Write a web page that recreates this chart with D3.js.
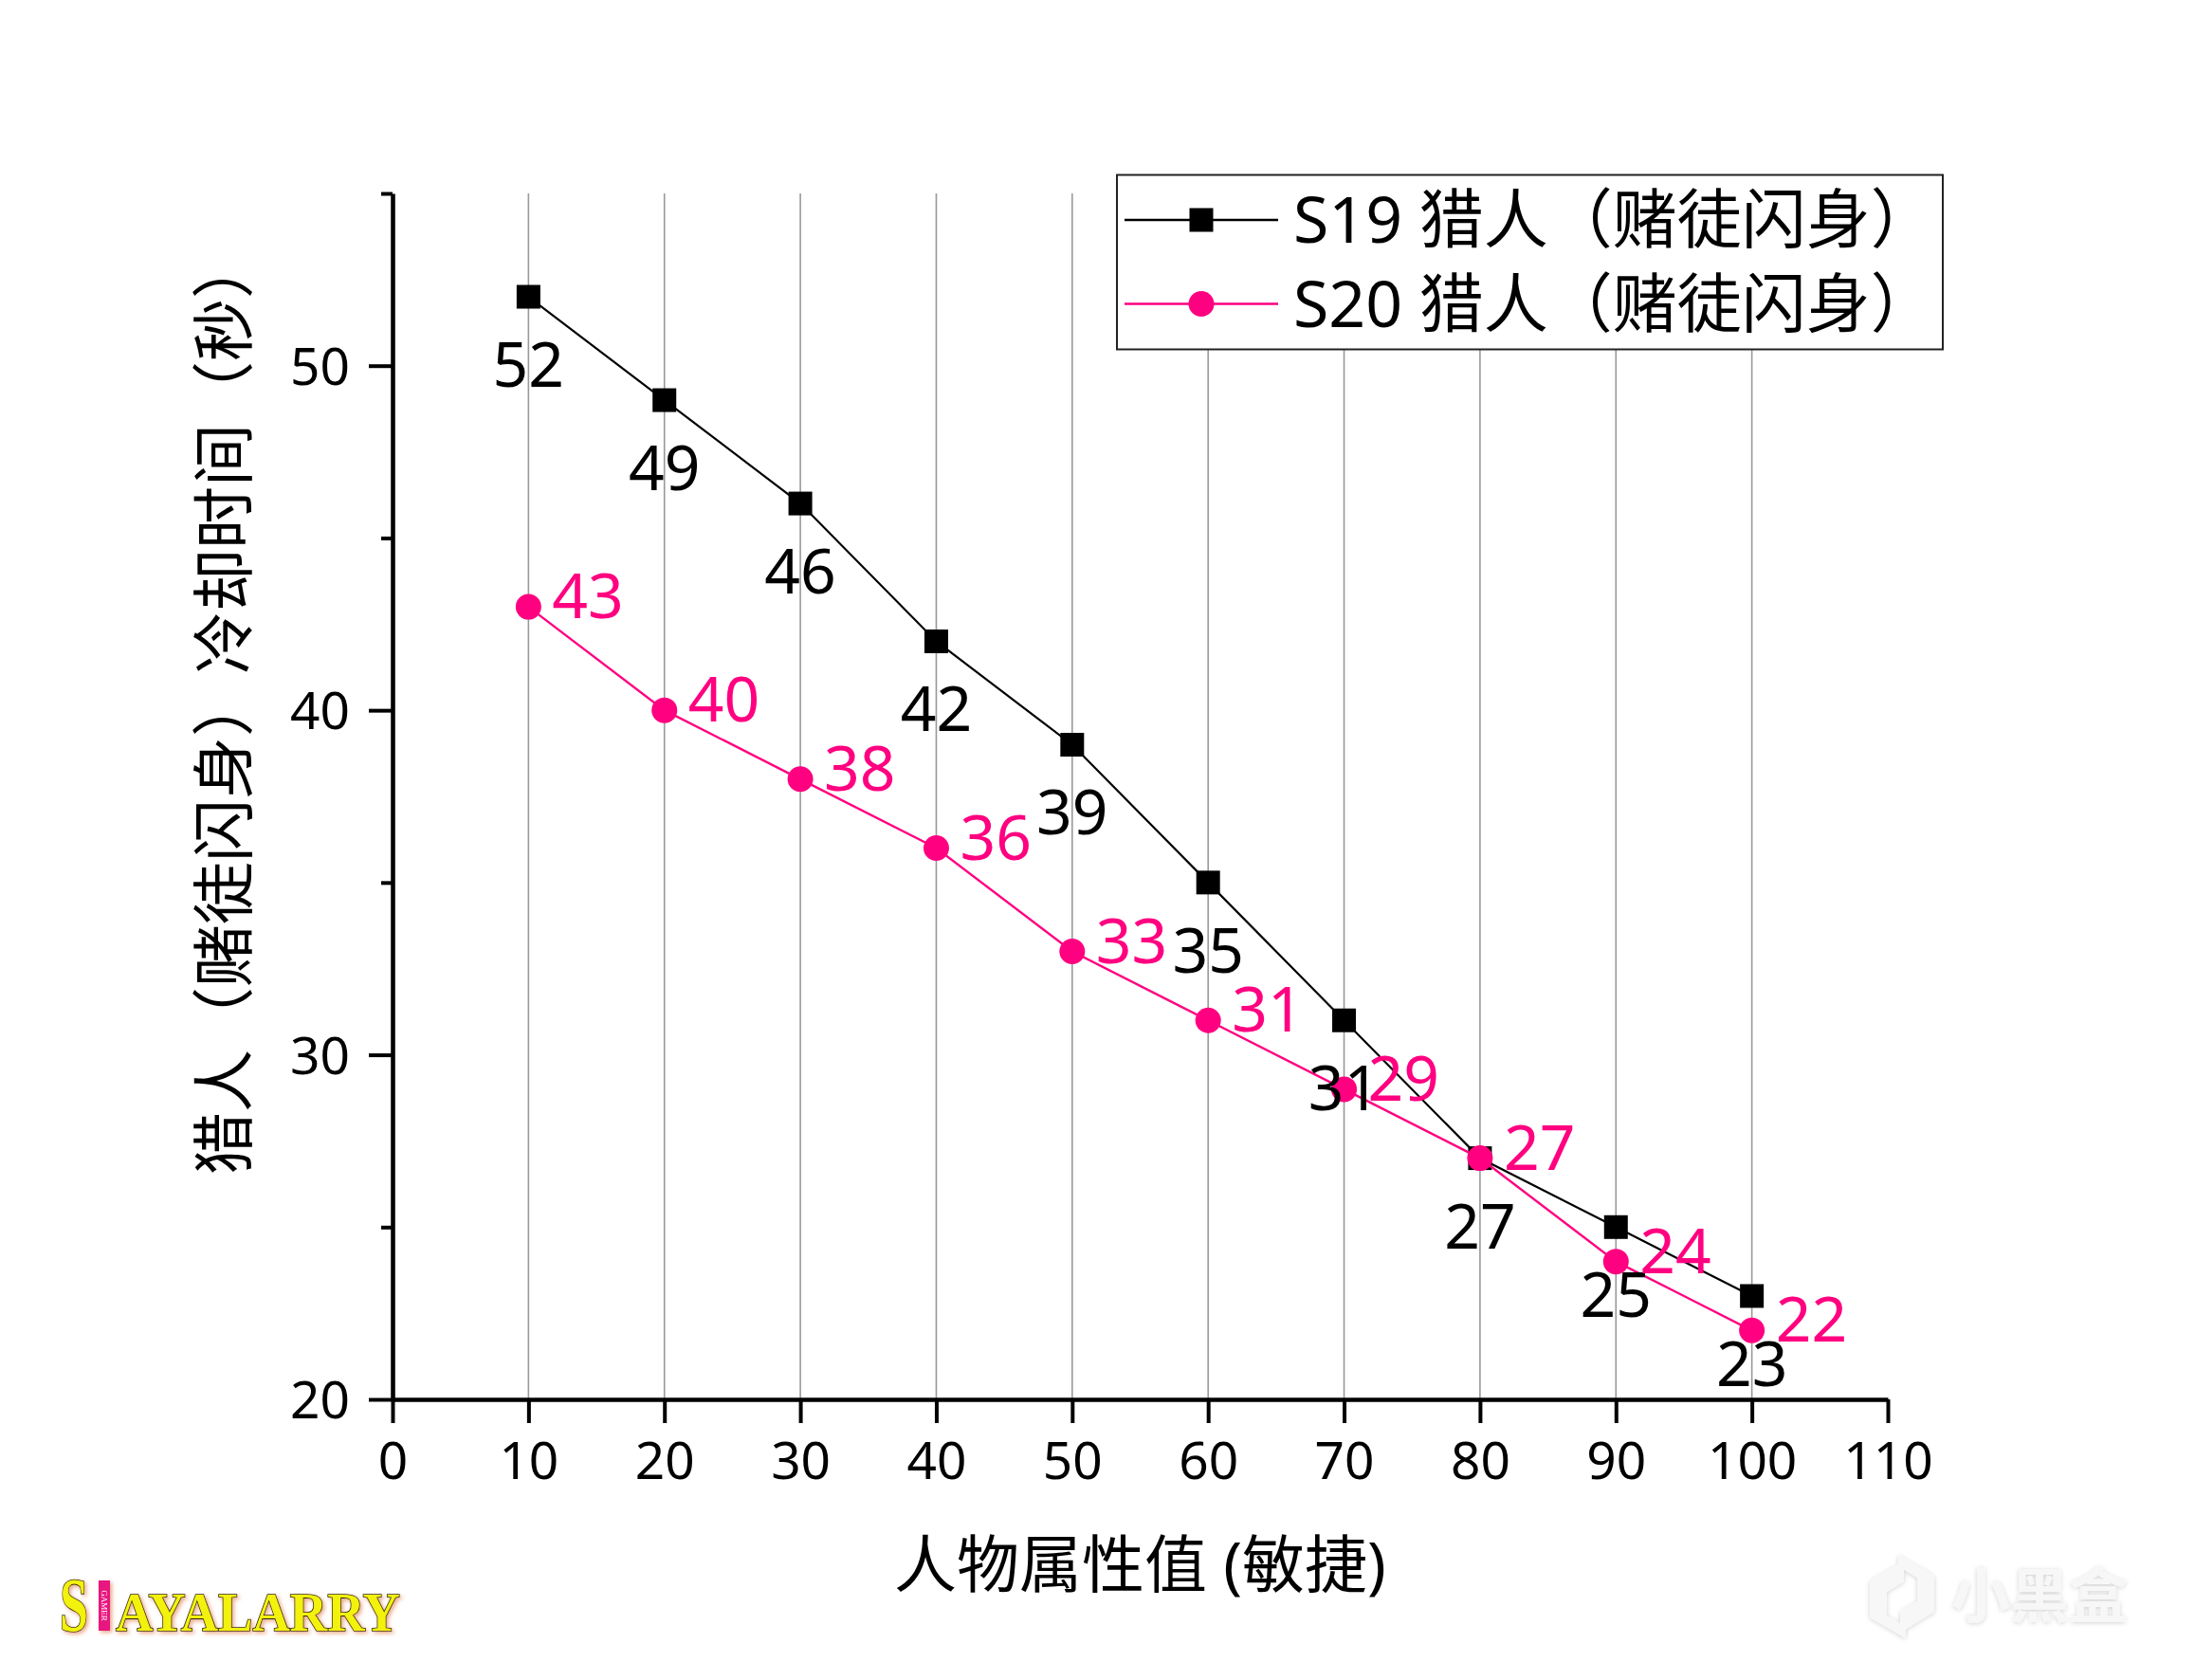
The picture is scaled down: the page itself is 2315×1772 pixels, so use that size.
<!DOCTYPE html>
<html>
<head>
<meta charset="utf-8">
<script src="https://cdn.jsdelivr.net/npm/d3@7"></script>
<style>
  html, body { margin: 0; padding: 0; background: #fff; }
  svg { display: block; }
  text { font-family: "Noto Sans", "Noto Sans CJK SC", sans-serif; }
</style>
</head>
<body>
<svg id="chart" width="2315" height="1772"></svg>
<script>
// ---- data ----
const xValues = [10, 20, 30, 40, 50, 60, 70, 80, 90, 100];
const s19Values = [52, 49, 46, 42, 39, 35, 31, 27, 25, 23];
const s20Values = [43, 40, 38, 36, 33, 31, 29, 27, 24, 22];
const seriesNames = ["S19 猎人（赌徒闪身）", "S20 猎人（赌徒闪身）"];
const xTickValues = [0, 10, 20, 30, 40, 50, 60, 70, 80, 90, 100, 110];
const yTickValues = [20, 30, 40, 50];
const yMinorTickValues = [25, 35, 45, 55];
const gridValues = [10, 20, 30, 40, 50, 60, 70, 80, 90, 100];
const xTitle = "人物属性值 (敏捷)";
const yTitle = "猎人（赌徒闪身）冷却时间（秒）";

const PINK = "#ff0080";
const FONT = '"Noto Sans", "Noto Sans CJK SC", sans-serif';
const svg = d3.select("#chart");
svg.append("rect").attr("width", 2315).attr("height", 1772).attr("fill", "#fff");

const x = d3.scaleLinear().domain([0, 110]).range([414, 1991]);
const y = d3.scaleLinear().domain([20, 55]).range([1476, 204]);

// grid
svg.append("g").selectAll("line").data(gridValues).join("line")
  .attr("x1", d => x(d)).attr("x2", d => x(d))
  .attr("y1", y(55)).attr("y2", y(20))
  .attr("stroke", "#999").attr("stroke-width", 1.6);

// axes
const gx = svg.append("g").attr("transform", `translate(0,${y(20)})`)
  .call(d3.axisBottom(x).tickValues(xTickValues).tickSize(25).tickSizeOuter(0).tickFormat(d3.format("d")));
gx.select(".domain").attr("stroke", "#000").attr("stroke-width", 4.6);
gx.selectAll(".tick line").attr("stroke", "#000").attr("stroke-width", 4);
gx.selectAll(".tick text").attr("y", 64).attr("dy", "0.36em")
  .attr("font-size", 55).attr("fill", "#000").style("font-family", FONT);

const gyMinor = svg.append("g").attr("transform", `translate(${x(0)},0)`)
  .call(d3.axisLeft(y).tickValues(yMinorTickValues).tickSize(12).tickSizeOuter(0).tickFormat(""));
gyMinor.select(".domain").remove();
gyMinor.selectAll(".tick line").attr("stroke", "#000").attr("stroke-width", 4);

const gy = svg.append("g").attr("transform", `translate(${x(0)},0)`)
  .call(d3.axisLeft(y).tickValues(yTickValues).tickSize(25).tickSizeOuter(0).tickPadding(20).tickFormat(d3.format("d")));
gy.select(".domain").attr("stroke", "#000").attr("stroke-width", 4.6);
gy.selectAll(".tick line").attr("stroke", "#000").attr("stroke-width", 4);
gy.selectAll(".tick text").attr("font-size", 55).attr("fill", "#000").attr("dy", "0.36em")
  .style("font-family", FONT);

// axis titles
svg.append("text").attr("x", (x(0) + x(110)) / 2).attr("y", 1650).attr("dy", "0.36em")
  .attr("text-anchor", "middle").attr("font-size", 66).attr("fill", "#000").text(xTitle);
svg.append("text").attr("transform", "translate(236,744) rotate(-90)").attr("dy", "0.36em")
  .attr("text-anchor", "middle").attr("font-size", 66).attr("fill", "#000").text(yTitle);

// lines
const s19 = xValues.map((v, i) => ({ x: v, y: s19Values[i] }));
const s20 = xValues.map((v, i) => ({ x: v, y: s20Values[i] }));
const line = d3.line().x(d => x(d.x)).y(d => y(d.y));

svg.append("path").datum(s19).attr("d", line).attr("fill", "none").attr("stroke", "#000").attr("stroke-width", 2.2);
svg.selectAll(".sq").data(s19).join("rect").attr("class", "sq")
  .attr("x", d => x(d.x) - 12.5).attr("y", d => y(d.y) - 12.5)
  .attr("width", 25).attr("height", 25).attr("fill", "#000");

svg.append("path").datum(s20).attr("d", line).attr("fill", "none").attr("stroke", PINK).attr("stroke-width", 2.4);
svg.selectAll(".ci").data(s20).join("circle").attr("class", "ci")
  .attr("cx", d => x(d.x)).attr("cy", d => y(d.y)).attr("r", 13.5).attr("fill", PINK);

// data labels
svg.selectAll(".l19").data(s19).join("text").attr("class", "l19")
  .attr("x", d => x(d.x)).attr("y", d => y(d.y) + 95)
  .attr("text-anchor", "middle").attr("font-size", 66).attr("fill", "#000").text(d => d.y);
svg.selectAll(".l20").data(s20).join("text").attr("class", "l20")
  .attr("x", d => x(d.x) + 25).attr("y", d => y(d.y) + 12)
  .attr("text-anchor", "start").attr("font-size", 66).attr("fill", PINK).text(d => d.y);

// legend
const lg = svg.append("g");
lg.append("rect").attr("x", 1178).attr("y", 184.5).attr("width", 871).attr("height", 184)
  .attr("fill", "#fff").attr("stroke", "#222").attr("stroke-width", 2);
const legendRows = [
  { name: seriesNames[0], color: "#000", shape: "square", cy: 232 },
  { name: seriesNames[1], color: PINK, shape: "circle", cy: 320.5 }
];
legendRows.forEach(r => {
  lg.append("line").attr("x1", 1186).attr("x2", 1348).attr("y1", r.cy).attr("y2", r.cy)
    .attr("stroke", r.color).attr("stroke-width", 2.4);
  if (r.shape === "square") {
    lg.append("rect").attr("x", 1267 - 12.5).attr("y", r.cy - 12.5).attr("width", 25).attr("height", 25).attr("fill", r.color);
  } else {
    lg.append("circle").attr("cx", 1267).attr("cy", r.cy).attr("r", 13.5).attr("fill", r.color);
  }
  lg.append("text").attr("x", 1364).attr("y", r.cy).attr("dy", "0.36em")
    .attr("font-size", 68).attr("fill", "#000").text(r.name);
});

// watermark bottom-left
const defs = svg.append("defs");
const glow = defs.append("filter").attr("id", "glow").attr("x", "-10%").attr("y", "-30%").attr("width", "120%").attr("height", "160%");
glow.append("feDropShadow").attr("dx", 2).attr("dy", 2).attr("stdDeviation", 2).attr("flood-color", "#e08050").attr("flood-opacity", 0.7);
const wm = svg.append("g").attr("filter", "url(#glow)");
wm.append("text").attr("x", 63).attr("y", 1720).attr("font-size", 80).attr("font-weight", "bold")
  .attr("textLength", 30).attr("lengthAdjust", "spacingAndGlyphs")
  .style("font-family", '"Liberation Serif", serif')
  .attr("fill", "#f2f20a").attr("stroke", "#2a2a10").attr("stroke-width", 1.6).attr("paint-order", "stroke").text("S");
wm.append("rect").attr("x", 104).attr("y", 1667).attr("width", 12).attr("height", 53).attr("fill", "#e8197f");
wm.append("text").attr("transform", "translate(110,1693.5) rotate(90)").attr("text-anchor", "middle").attr("dy", "0.35em")
  .attr("font-size", 9).attr("fill", "#fff").style("font-family", '"Liberation Serif", serif').text("GAMER");
wm.append("text").attr("x", 122).attr("y", 1720).attr("font-size", 56).attr("font-weight", "bold")
  .attr("textLength", 300).attr("lengthAdjust", "spacingAndGlyphs")
  .style("font-family", '"Liberation Serif", serif')
  .attr("fill", "#f2f20a").attr("stroke", "#2a2a10").attr("stroke-width", 1.6).attr("paint-order", "stroke").text("AYALARRY");

// watermark bottom-right
const sh = defs.append("filter").attr("id", "soft").attr("x", "-20%").attr("y", "-20%").attr("width", "140%").attr("height", "140%");
sh.append("feDropShadow").attr("dx", 0).attr("dy", 1).attr("stdDeviation", 2.5).attr("flood-color", "#000").attr("flood-opacity", 0.18);
const xh = svg.append("g").attr("filter", "url(#soft)");
xh.append("path").attr("d", "M1972,1668 L2008,1646 L2008,1668 L1990,1679 L1990,1704 L2010,1716 L2010,1728 L1972,1706 Z")
  .attr("fill", "#f7f7f7");
xh.append("path").attr("d", "M2040,1700 L2004,1722 L2004,1700 L2022,1689 L2022,1664 L2002,1652 L2002,1640 L2040,1662 Z")
  .attr("fill", "#f7f7f7");
xh.append("text").attr("x", 2058).attr("y", 1684).attr("dy", "0.36em").attr("font-size", 62).attr("font-weight", "bold")
  .style("font-family", '"Noto Sans CJK SC", sans-serif')
  .attr("fill", "#f7f7f7").text("小黑盒");
</script>
</body>
</html>
